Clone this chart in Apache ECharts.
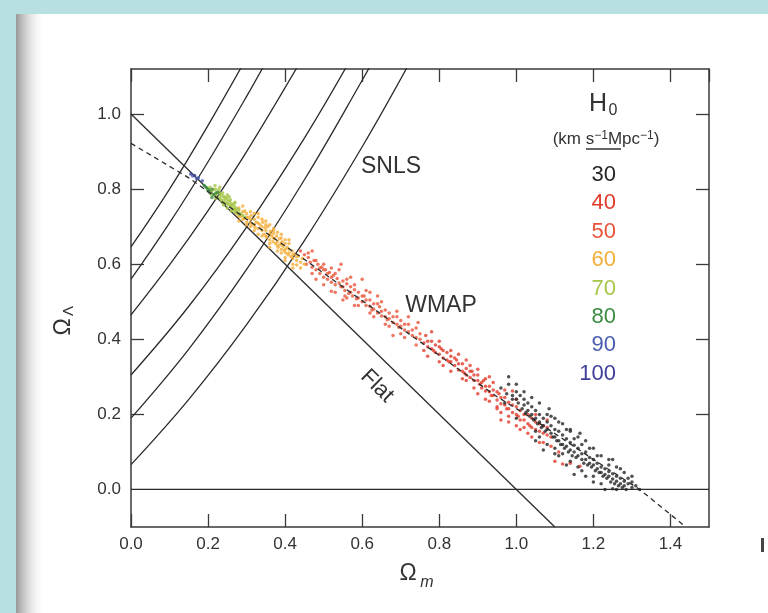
<!DOCTYPE html>
<html>
<head>
<meta charset="utf-8">
<script src="https://cdn.jsdelivr.net/npm/echarts@6/dist/echarts.min.js"></script>
<style>
  html, body { margin: 0; padding: 0; background: #fff; }
  #chart { width: 768px; height: 613px; }
</style>
</head>
<body>
<div id="chart"></div>
<script>
const FONT = '"Liberation Sans", Arial, Helvetica, "DejaVu Sans", sans-serif';

const yLabelValues = [0, 0.2, 0.4, 0.6, 0.8, 1.0];
const yTickValues = [0.2, 0.4, 0.6, 0.8, 1.0];

// SNLS contour lines, upper-left to lower-right
const snlsA = [[0, 0.646], [0.1, 0.80], [0.2, 0.97], [0.3, 1.15]];
const snlsB = [[0, 0.56], [0.1, 0.71], [0.2, 0.873], [0.3, 1.047], [0.36, 1.157]];
const snlsC = [[0, 0.465], [0.1, 0.598], [0.2, 0.743], [0.3, 0.90], [0.45, 1.158]];
const snlsD = [[0, 0.305], [0.15, 0.488], [0.3, 0.699], [0.45, 0.936], [0.58, 1.164]];
const snlsE = [[0, 0.19], [0.15, 0.374], [0.3, 0.586], [0.45, 0.825], [0.6, 1.09], [0.64, 1.165]];
const snlsF = [[0, 0.066], [0.15, 0.24], [0.3, 0.439], [0.45, 0.663], [0.6, 0.913], [0.72, 1.131]];

const flatLine = [[0, 1], [1.1, -0.1]];
const zeroLine = [[0, 0], [1.5, 0]];
const wmapDashed = [[0, 0.922], [0.15, 0.83], [0.3, 0.72], [0.44, 0.62], [0.6, 0.503], [0.8, 0.357],
  [0.95, 0.247], [1.04, 0.19], [1.2, 0.08], [1.32, 0.0], [1.44, -0.1]];

// WMAP chain samples, grouped by H0
const h0Labels = ['30', '40', '50', '60', '70', '80', '90', '100'];
const h0Colors = ['#262626', '#e23b2a', '#e8553a', '#f4ae3a', '#a6c648', '#3c8c40', '#4a5db0', '#3e3f9a'];

const h30 = [[0.96, 0.27], [0.975, 0.255], [0.98, 0.28], [0.99, 0.24], [1.0, 0.26], [1.005, 0.23], [1.01, 0.25],
  [1.015, 0.215], [1.02, 0.24], [1.025, 0.205], [1.03, 0.23], [1.035, 0.195], [1.04, 0.22], [1.045, 0.185],
  [1.05, 0.21], [1.055, 0.175], [1.06, 0.2], [1.065, 0.165], [1.07, 0.19], [1.075, 0.155], [1.08, 0.18],
  [1.085, 0.215], [1.09, 0.17], [1.095, 0.14], [1.1, 0.16], [1.105, 0.13], [1.11, 0.155], [1.115, 0.12],
  [1.12, 0.145], [1.125, 0.11], [1.13, 0.135], [1.135, 0.1], [1.14, 0.125], [1.145, 0.09], [1.15, 0.118],
  [1.155, 0.085], [1.16, 0.11], [1.165, 0.15], [1.17, 0.095], [1.175, 0.07], [1.18, 0.1], [1.185, 0.065],
  [1.19, 0.085], [1.195, 0.06], [1.2, 0.08], [1.205, 0.05], [1.21, 0.07], [1.215, 0.045], [1.22, 0.06],
  [1.225, 0.035], [1.23, 0.055], [1.235, 0.03], [1.24, 0.048], [1.245, 0.02], [1.25, 0.042], [1.255, 0.015],
  [1.26, 0.035], [1.265, 0.01], [1.27, 0.03], [1.275, 0.005], [1.28, 0.022], [1.285, 0.0], [1.29, 0.015],
  [1.3, 0.005], [1.31, 0.01], [1.32, 0.0], [1.23, 0.0], [1.25, 0.002], [1.11, 0.18], [1.14, 0.155],
  [1.12, 0.095], [1.19, 0.11], [1.06, 0.14], [1.0, 0.19], [0.97, 0.23], [1.2, 0.035], [1.27, 0.055], [1.16, 0.06],
  [0.99, 0.25], [1.0, 0.24], [1.02, 0.225], [1.03, 0.21], [1.04, 0.2], [1.05, 0.19], [1.06, 0.18], [1.07, 0.17],
  [1.08, 0.16], [1.09, 0.15], [1.1, 0.14], [1.11, 0.13], [1.12, 0.12], [1.13, 0.115], [1.14, 0.105], [1.15, 0.1],
  [1.16, 0.09], [1.17, 0.08], [1.18, 0.08], [1.19, 0.07], [1.2, 0.065], [1.21, 0.055], [1.22, 0.045],
  [1.23, 0.04], [1.24, 0.035], [1.25, 0.028], [1.26, 0.022], [1.27, 0.015], [1.28, 0.01], [1.15, 0.135],
  [1.17, 0.12], [1.13, 0.16], [1.09, 0.195], [1.21, 0.09], [1.24, 0.065], [1.29, 0.03], [1.3, 0.02],
  [1.26, 0.0], [1.1, 0.11], [1.05, 0.155],
  [0.98, 0.3], [1.0, 0.28], [1.02, 0.26], [1.04, 0.245], [1.06, 0.23], [1.08, 0.2], [1.1, 0.19], [1.12, 0.175],
  [1.14, 0.16], [1.16, 0.14], [1.18, 0.13], [1.2, 0.11], [1.22, 0.09], [1.24, 0.08], [1.26, 0.06], [1.28, 0.045],
  [1.3, 0.035], [1.05, 0.13], [1.08, 0.12], [1.11, 0.09], [1.14, 0.075], [1.17, 0.05], [1.2, 0.02], [1.22, 0.015],
  [1.15, 0.04], [1.13, 0.065], [1.1, 0.095], [1.07, 0.105], [1.25, 0.08], [1.18, 0.035]];

const h40 = [[0.76, 0.39], [0.765, 0.41], [0.77, 0.38], [0.78, 0.395], [0.785, 0.37], [0.79, 0.385], [0.8, 0.36],
  [0.805, 0.375], [0.81, 0.35], [0.82, 0.365], [0.825, 0.34], [0.83, 0.355], [0.84, 0.33], [0.845, 0.345],
  [0.85, 0.318], [0.86, 0.335], [0.865, 0.31], [0.87, 0.322], [0.88, 0.298], [0.885, 0.315], [0.89, 0.29],
  [0.9, 0.305], [0.905, 0.28], [0.91, 0.27], [0.915, 0.29], [0.92, 0.262], [0.93, 0.275], [0.935, 0.25],
  [0.94, 0.265], [0.95, 0.238], [0.955, 0.255], [0.96, 0.228], [0.97, 0.245], [0.975, 0.215], [0.98, 0.232],
  [0.99, 0.205], [1.0, 0.22], [1.005, 0.195], [1.01, 0.21], [1.02, 0.185], [1.03, 0.2], [1.035, 0.17],
  [1.04, 0.19], [1.05, 0.16], [1.06, 0.175], [1.07, 0.15], [1.08, 0.165], [1.09, 0.14], [1.1, 0.075],
  [1.12, 0.068], [1.14, 0.07], [1.165, 0.062], [0.95, 0.215], [0.98, 0.195], [1.0, 0.17], [0.92, 0.24],
  [0.87, 0.29], [1.03, 0.15], [0.93, 0.3], [0.99, 0.262],
  [0.77, 0.395], [0.78, 0.375], [0.79, 0.365], [0.8, 0.38], [0.81, 0.37], [0.82, 0.345], [0.83, 0.34],
  [0.84, 0.35], [0.85, 0.335], [0.86, 0.315], [0.87, 0.305], [0.88, 0.315], [0.89, 0.305], [0.9, 0.29],
  [0.91, 0.285], [0.92, 0.275], [0.93, 0.26], [0.94, 0.25], [0.95, 0.26], [0.96, 0.245], [0.97, 0.225],
  [0.98, 0.215], [0.99, 0.225], [1.0, 0.2], [1.01, 0.185], [1.02, 0.2], [1.03, 0.175], [1.04, 0.165],
  [1.05, 0.18], [1.06, 0.155], [1.07, 0.17], [1.08, 0.145], [0.8, 0.34], [0.83, 0.37], [0.9, 0.255],
  [0.96, 0.205], [1.02, 0.165], [1.06, 0.125], [0.88, 0.33], [0.76, 0.37],
  [0.77, 0.355], [0.78, 0.42], [0.8, 0.395], [0.81, 0.33], [0.83, 0.315], [0.85, 0.36], [0.86, 0.295],
  [0.87, 0.345], [0.89, 0.27], [0.9, 0.32], [0.92, 0.295], [0.93, 0.235], [0.94, 0.285], [0.95, 0.22],
  [0.97, 0.265], [0.98, 0.18], [1.0, 0.24], [1.01, 0.16], [1.04, 0.14], [1.05, 0.2], [1.07, 0.125],
  [1.08, 0.185], [1.09, 0.115], [0.96, 0.185], [1.11, 0.1]];

const h50 = [[0.44, 0.635], [0.45, 0.625], [0.455, 0.6], [0.46, 0.618], [0.465, 0.605], [0.47, 0.592],
  [0.475, 0.61], [0.48, 0.585], [0.485, 0.6], [0.49, 0.575], [0.495, 0.592], [0.5, 0.565], [0.505, 0.585],
  [0.51, 0.56], [0.515, 0.578], [0.52, 0.552], [0.525, 0.57], [0.53, 0.545], [0.535, 0.562], [0.54, 0.585],
  [0.545, 0.54], [0.55, 0.555], [0.555, 0.53], [0.56, 0.548], [0.565, 0.522], [0.57, 0.54], [0.575, 0.515],
  [0.58, 0.532], [0.585, 0.508], [0.59, 0.525], [0.6, 0.5], [0.605, 0.515], [0.61, 0.49], [0.62, 0.505],
  [0.625, 0.478], [0.63, 0.495], [0.64, 0.47], [0.645, 0.487], [0.65, 0.462], [0.66, 0.478], [0.665, 0.452],
  [0.67, 0.47], [0.68, 0.445], [0.69, 0.46], [0.695, 0.432], [0.7, 0.45], [0.71, 0.425], [0.72, 0.44],
  [0.73, 0.41], [0.74, 0.43], [0.75, 0.4], [0.52, 0.528], [0.58, 0.49], [0.62, 0.525], [0.66, 0.44], [0.5, 0.545],
  [0.46, 0.63], [0.47, 0.575], [0.48, 0.61], [0.49, 0.59], [0.5, 0.585], [0.51, 0.575], [0.52, 0.565],
  [0.53, 0.575], [0.54, 0.55], [0.55, 0.54], [0.56, 0.56], [0.57, 0.525], [0.58, 0.545], [0.59, 0.51],
  [0.6, 0.515], [0.61, 0.505], [0.62, 0.488], [0.63, 0.48], [0.64, 0.495], [0.65, 0.475], [0.66, 0.46],
  [0.67, 0.455], [0.68, 0.46], [0.69, 0.44], [0.7, 0.435], [0.71, 0.44], [0.72, 0.42], [0.73, 0.425],
  [0.74, 0.405], [0.75, 0.415], [0.545, 0.6], [0.6, 0.56], [0.68, 0.41], [0.555, 0.515], [0.47, 0.635],
  [0.48, 0.56], [0.5, 0.6], [0.52, 0.59], [0.53, 0.525], [0.56, 0.51], [0.57, 0.565], [0.59, 0.49], [0.61, 0.53],
  [0.63, 0.46], [0.64, 0.515], [0.67, 0.435], [0.69, 0.475], [0.71, 0.405], [0.72, 0.46], [0.74, 0.385],
  [0.745, 0.445], [0.62, 0.47], [0.55, 0.505], [0.65, 0.5], [0.7, 0.415]];

const h60 = [[0.27, 0.745], [0.275, 0.735], [0.28, 0.75], [0.285, 0.728], [0.29, 0.74], [0.295, 0.722],
  [0.3, 0.735], [0.3, 0.712], [0.305, 0.725], [0.31, 0.71], [0.312, 0.73], [0.315, 0.705], [0.32, 0.72],
  [0.322, 0.698], [0.325, 0.712], [0.33, 0.725], [0.33, 0.695], [0.335, 0.705], [0.34, 0.69], [0.342, 0.712],
  [0.345, 0.68], [0.348, 0.698], [0.35, 0.69], [0.352, 0.672], [0.355, 0.7], [0.358, 0.68], [0.36, 0.665],
  [0.362, 0.688], [0.365, 0.675], [0.368, 0.66], [0.37, 0.682], [0.372, 0.668], [0.375, 0.655], [0.378, 0.675],
  [0.38, 0.66], [0.382, 0.645], [0.385, 0.668], [0.388, 0.652], [0.39, 0.64], [0.392, 0.66], [0.395, 0.648],
  [0.398, 0.635], [0.4, 0.655], [0.402, 0.63], [0.405, 0.645], [0.408, 0.625], [0.41, 0.64], [0.415, 0.62],
  [0.418, 0.635], [0.42, 0.615], [0.425, 0.628], [0.43, 0.61], [0.435, 0.622], [0.44, 0.605], [0.445, 0.615],
  [0.45, 0.6], [0.36, 0.705], [0.34, 0.72], [0.32, 0.735], [0.39, 0.67], [0.41, 0.655], [0.43, 0.598],
  [0.44, 0.59], [0.42, 0.6], [0.4, 0.618],
  [0.28, 0.728], [0.29, 0.72], [0.3, 0.725], [0.31, 0.72], [0.32, 0.705], [0.33, 0.71], [0.34, 0.7],
  [0.35, 0.675], [0.36, 0.68], [0.37, 0.67], [0.38, 0.65], [0.39, 0.655], [0.4, 0.64], [0.41, 0.63],
  [0.42, 0.625], [0.43, 0.62], [0.35, 0.705], [0.37, 0.69], [0.38, 0.685], [0.4, 0.665], [0.33, 0.68],
  [0.36, 0.655], [0.39, 0.63], [0.31, 0.7], [0.295, 0.742],
  [0.28, 0.715], [0.3, 0.705], [0.32, 0.69], [0.34, 0.675], [0.36, 0.645], [0.38, 0.635], [0.4, 0.61],
  [0.42, 0.59], [0.29, 0.755], [0.31, 0.74], [0.33, 0.735], [0.35, 0.715], [0.37, 0.695], [0.39, 0.68],
  [0.41, 0.665]];

const h70 = [[0.2, 0.8], [0.205, 0.805], [0.21, 0.795], [0.215, 0.80], [0.22, 0.785], [0.225, 0.79], [0.23, 0.78],
  [0.232, 0.775], [0.235, 0.785], [0.24, 0.77], [0.242, 0.78], [0.245, 0.765], [0.25, 0.772], [0.252, 0.76],
  [0.255, 0.768], [0.258, 0.755], [0.26, 0.762], [0.262, 0.75], [0.265, 0.757], [0.268, 0.745], [0.27, 0.752],
  [0.272, 0.742], [0.275, 0.748], [0.278, 0.738], [0.28, 0.745], [0.285, 0.735], [0.29, 0.73], [0.295, 0.726],
  [0.218, 0.81], [0.228, 0.798], [0.238, 0.79], [0.248, 0.778], [0.258, 0.772], [0.268, 0.762], [0.24, 0.758],
  [0.25, 0.75], [0.21, 0.785], [0.22, 0.8], [0.23, 0.79], [0.24, 0.78], [0.25, 0.762], [0.26, 0.755],
  [0.27, 0.738], [0.235, 0.77], [0.245, 0.775], [0.255, 0.78], [0.265, 0.745], [0.28, 0.732],
  [0.22, 0.775], [0.24, 0.762], [0.26, 0.742], [0.23, 0.805], [0.25, 0.785], [0.27, 0.765]];

const h80 = [[0.19, 0.81], [0.2, 0.8], [0.205, 0.79], [0.21, 0.80], [0.195, 0.805], [0.215, 0.785], [0.22, 0.79],
  [0.2, 0.795], [0.21, 0.778], [0.225, 0.792]];

const h90 = [[0.16, 0.835], [0.17, 0.828], [0.175, 0.83], [0.185, 0.822]];
const h100 = [[0.155, 0.84], [0.165, 0.836]];

function curve(data, dashed) {
  return {
    type: 'line', data: data, symbol: 'none', silent: true, clip: true, z: dashed ? 5 : 2,
    smooth: dashed ? false : 0.4,
    lineStyle: { color: '#2b2b2b', width: 1.3, type: dashed ? [5, 4] : 'solid' }
  };
}

function dots(data, color) {
  return {
    type: 'scatter', data: data, symbolSize: 3.5, silent: true, z: 3,
    itemStyle: { color: color, borderWidth: 0 }
  };
}

function axisStyle(position, showLabel) {
  return {
    axisLine: { show: true, onZero: false, lineStyle: { color: '#3a3a3a', width: 1.5 } },
    axisTick: { show: true, inside: true, length: 13, lineStyle: { color: '#3a3a3a', width: 1.3 } },
    axisLabel: {
      show: showLabel, color: '#333', fontSize: 17, fontFamily: FONT,
      formatter: v => v.toFixed(1)
    },
    splitLine: { show: false },
    position: position
  };
}

const xBottom = Object.assign({ type: 'value', min: 0, max: 1.5, interval: 0.2 }, axisStyle('bottom', true));
xBottom.axisLabel.margin = 9;
xBottom.axisLabel.showMaxLabel = false;
const xTop = Object.assign({ type: 'value', min: 0, max: 1.5, interval: 0.2 }, axisStyle('top', false));

const yLeft = Object.assign({ type: 'value', min: -0.1, max: 1.12 }, axisStyle('left', true));
yLeft.axisTick.customValues = yTickValues;
yLeft.axisLabel.customValues = yLabelValues;
yLeft.axisLabel.margin = 10;
const yRight = Object.assign({ type: 'value', min: -0.1, max: 1.12 }, axisStyle('right', false));
yRight.axisTick.customValues = yTickValues;

function txt(text, x, y, size, color, extra) {
  return {
    type: 'text', x: x, y: y, z: 10,
    style: Object.assign({
      text: text, fontSize: size, fontFamily: FONT, fill: color,
      align: 'center', verticalAlign: 'middle', textAlign: 'center', textVerticalAlign: 'middle'
    }, extra || {})
  };
}

const legendTexts = h0Labels.map((label, i) =>
  txt(label, 616, 175 + i * 28.4, 22, h0Colors[i], { align: 'right', textAlign: 'right' }));

const graphics = [
  { type: 'rect', z: -10, shape: { x: 0, y: 0, width: 768, height: 14 }, style: { fill: '#b7e0e3' } },
  { type: 'rect', z: -10, shape: { x: 0, y: 0, width: 16, height: 613 }, style: { fill: '#b7e0e3' } },
  {
    type: 'rect', z: -10, shape: { x: 16, y: 14, width: 30, height: 599 },
    style: {
      fill: new echarts.graphic.LinearGradient(0, 0, 1, 0, [
        { offset: 0, color: 'rgba(140,140,140,0.9)' },
        { offset: 1, color: 'rgba(255,255,255,0)' }
      ])
    }
  },
  { type: 'rect', z: -5, shape: { x: 761, y: 538, width: 3, height: 14 }, style: { fill: '#444' } },
  txt('SNLS', 391, 167, 23, '#333'),
  txt('WMAP', 441, 306, 23, '#333'),
  Object.assign(txt('Flat', 377, 386, 22, '#333'), { rotation: -0.775 }),
  txt('H', 598, 104, 25, '#333'),
  txt('0', 613, 111, 16, '#333'),
  txt('(km s{sup|\u22121}Mpc{sup|\u22121})', 606, 139, 17, '#333', {
    rich: { sup: { fontSize: 12, fontFamily: FONT, fill: '#333', verticalAlign: 'top', lineHeight: 16 } },
    lineHeight: 19
  }),
  { type: 'line', z: 10, shape: { x1: 586, y1: 149, x2: 621, y2: 149 }, style: { stroke: '#333', lineWidth: 1.5 } },
  txt('\u03A9', 408, 574, 23, '#333'),
  txt('m', 427, 583, 16, '#333', { fontStyle: 'italic' }),
  {
    type: 'group', x: 64, y: 322, rotation: Math.PI / 2, z: 10,
    children: [
      txt('\u03A9', -5, 0, 23, '#333'),
      txt('\u039B', 11, 5, 15, '#333')
    ]
  }
].concat(legendTexts);

const chart = echarts.init(document.getElementById('chart'), null, { renderer: 'canvas' });
chart.setOption({
  animation: false,
  backgroundColor: '#ffffff',
  grid: { left: 131, right: 59, top: 69, bottom: 86 },
  xAxis: [xBottom, xTop],
  yAxis: [yLeft, yRight],
  graphic: graphics,
  series: [
    curve(snlsA), curve(snlsB), curve(snlsC), curve(snlsD), curve(snlsE), curve(snlsF),
    curve(flatLine), curve(zeroLine),
    dots(h40, h0Colors[1]), dots(h50, h0Colors[2]), dots(h60, h0Colors[3]), dots(h70, h0Colors[4]),
    dots(h80, h0Colors[5]), dots(h90, h0Colors[6]), dots(h100, h0Colors[7]), dots(h30, h0Colors[0]),
    curve(wmapDashed, true)
  ]
});
</script>
</body>
</html>
